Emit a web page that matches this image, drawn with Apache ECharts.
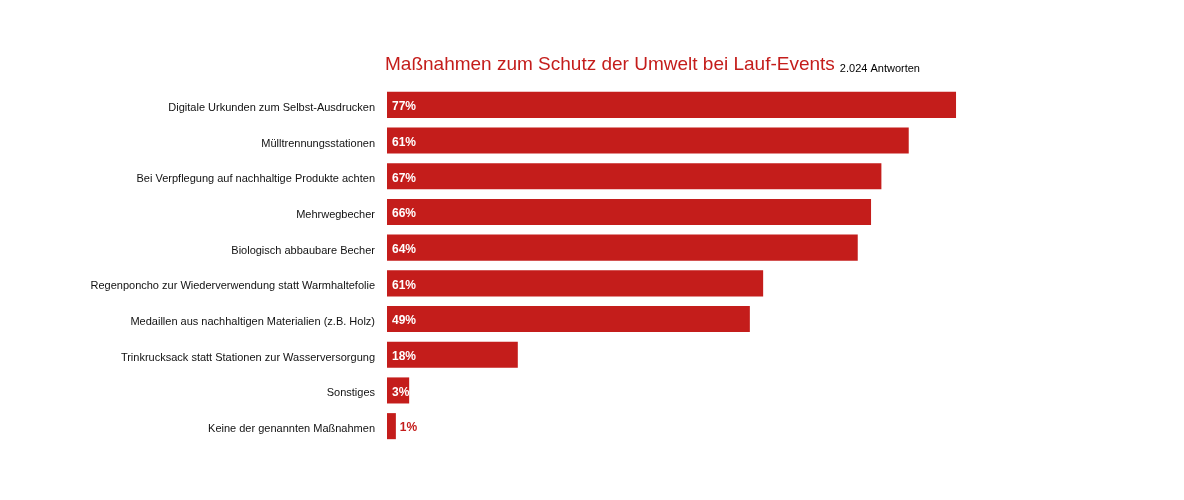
<!DOCTYPE html>
<html>
<head>
<meta charset="utf-8">
<script src="https://cdn.jsdelivr.net/npm/echarts@6/dist/echarts.min.js"></script>
<style>html,body{margin:0;padding:0;background:#fff;}#c{width:1184px;height:500px;}</style>
</head>
<body>
<div id="c"></div>
<script>
const categories = [
  "Digitale Urkunden zum Selbst-Ausdrucken",
  "Mülltrennungsstationen",
  "Bei Verpflegung auf nachhaltige Produkte achten",
  "Mehrwegbecher",
  "Biologisch abbaubare Becher",
  "Regenponcho zur Wiederverwendung statt Warmhaltefolie",
  "Medaillen aus nachhaltigen Materialien (z.B. Holz)",
  "Trinkrucksack statt Stationen zur Wasserversorgung",
  "Sonstiges",
  "Keine der genannten Maßnahmen"
];
const values = [77, 70.6, 66.9, 65.5, 63.7, 50.9, 49.1, 17.7, 3.0, 1.2];
const labels = ["77%", "61%", "67%", "66%", "64%", "61%", "49%", "18%", "3%", "1%"];
const titleText = "Maßnahmen zum Schutz der Umwelt bei Lauf-Events";
const subtitleText = "2.024 Antworten";

const RED = '#c41d1b';
const font = '"Liberation Sans", Arial, Helvetica, sans-serif';

const chart = echarts.init(document.getElementById('c'));
const data = values.map((v, i) => {
  const outside = v < 2;
  return {
    value: v,
    label: {
      show: true,
      formatter: labels[i],
      position: outside ? 'right' : 'insideLeft',
      distance: outside ? 4 : 5,
      offset: [0, 2],
      color: outside ? RED : '#fff',
      fontWeight: 'bold',
      fontSize: 12,
      fontFamily: font
    }
  };
});

chart.setOption({
  animation: false,
  title: {
    left: 380,
    top: 46,
    text: '{a|' + titleText + '} {b|' + subtitleText + '}',
    textStyle: {
      fontWeight: 'normal',
      rich: {
        a: { fontSize: 19, color: RED, fontWeight: 'normal', fontFamily: font, verticalAlign: 'bottom', lineHeight: 23 },
        b: { fontSize: 11, color: '#000', fontWeight: 'normal', fontFamily: font, verticalAlign: 'bottom', lineHeight: 22 }
      }
    }
  },
  grid: { left: 387, top: 87, width: 739, height: 357, containLabel: false },
  xAxis: {
    type: 'value', min: 0, max: 100, show: false
  },
  yAxis: {
    type: 'category',
    data: categories,
    inverse: true,
    axisLine: { show: false },
    axisTick: { show: false },
    axisLabel: { color: '#111', fontSize: 11, fontFamily: font, margin: 12, verticalAlign: 'top', lineHeight: 6 }
  },
  series: [{
    type: 'bar',
    data: data,
    barCategoryGap: '27%',
    itemStyle: { color: RED }
  }]
});
</script>
</body>
</html>
